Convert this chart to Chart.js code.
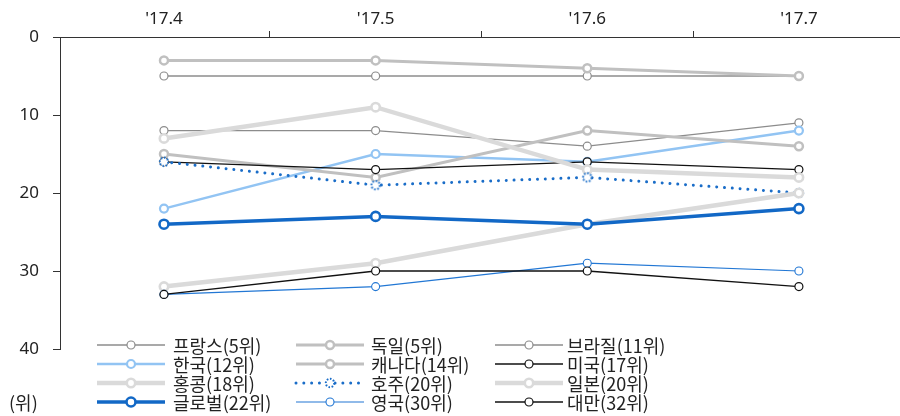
<!DOCTYPE html>
<html>
<head>
<meta charset="utf-8">
<script src="https://cdn.jsdelivr.net/npm/chart.js@4/dist/chart.umd.min.js"></script>
<style>
  html, body { margin: 0; padding: 0; background: #fff; overflow: hidden; }
  #wrap { width: 900px; height: 416px; position: relative; overflow: hidden; }
</style>
</head>
<body>
<div id="wrap"><canvas id="c" width="907" height="416"></canvas></div>
<script>
// Monthly rank by country (lower is better)
const categories = ["'17.4", "'17.5", "'17.6", "'17.7"];
const yTicks = [0, 10, 20, 30, 40];
const seriesNames = [
  '프랑스(5위)', '독일(5위)', '브라질(11위)',
  '한국(12위)', '캐나다(14위)', '미국(17위)',
  '홍콩(18위)', '호주(20위)', '일본(20위)',
  '글로벌(22위)', '영국(30위)', '대만(32위)'
];
const france    = [5, 5, 5, 5];
const germany   = [3, 3, 4, 5];
const brazil    = [12, 12, 14, 11];
const korea     = [22, 15, 16, 12];
const canada    = [15, 18, 12, 14];
const usa       = [16, 17, 16, 17];
const hongkong  = [13, 9, 17, 18];
const australia = [16, 19, 18, 20];
const japan     = [32, 29, 24, 20];
const globalAvg = [24, 23, 24, 22];
const uk        = [33, 32, 29, 30];
const taiwan    = [33, 30, 30, 32];
const unitLabel = '(위)';

const FONT = "'Noto Sans', 'Noto Sans CJK KR', sans-serif";
const LEGEND_FONT = "'Noto Sans CJK KR', 'Noto Sans', sans-serif";

// dotted ring used as the marker of the dotted series
function dottedRing(color) {
  const c = document.createElement('canvas');
  c.width = 14; c.height = 14;
  const g = c.getContext('2d');
  g.beginPath();
  g.arc(7, 7, 4.2, 0, Math.PI * 2);
  g.fillStyle = '#fff';
  g.fill();
  g.setLineDash([1.6, 1.6]);
  g.lineWidth = 2;
  g.strokeStyle = color;
  g.stroke();
  return c;
}

const styles = [
  { color: '#8c8c8c', width: 1.3, r: 4,   bw: 1.2 },
  { color: '#c0c0c0', width: 3,   r: 4,   bw: 2.5 },
  { color: '#8c8c8c', width: 1.3, r: 4,   bw: 1.2 },
  { color: '#92c4f3', width: 2.5, r: 4,   bw: 2.2 },
  { color: '#c0c0c0', width: 3,   r: 4,   bw: 2.5 },
  { color: '#111111', width: 1.3, r: 4,   bw: 1.2 },
  { color: '#dadada', width: 4.5, r: 4.2, bw: 2.6 },
  { color: '#1a6dc8', width: 3,   r: 4,   bw: 2, dotted: true },
  { color: '#dadada', width: 4.5, r: 4.2, bw: 2.6 },
  { color: '#1268c6', width: 3.5, r: 4.5, bw: 2.6 },
  { color: '#2277d4', width: 1.2, r: 4,   bw: 1.1 },
  { color: '#111111', width: 1.3, r: 4,   bw: 1.2 }
];
const seriesValues = [france, germany, brazil, korea, canada, usa, hongkong, australia, japan, globalAvg, uk, taiwan];

const datasets = seriesValues.map((vals, i) => {
  const s = styles[i];
  return {
    label: seriesNames[i],
    data: vals.map((v, k) => ({ x: k, y: v })),
    borderColor: s.color,
    borderWidth: s.width,
    borderDash: s.dotted ? [0.01, 7.8] : [],
    borderCapStyle: s.dotted ? 'round' : 'butt',
    pointStyle: s.dotted ? dottedRing(s.color) : 'circle',
    pointRadius: s.r,
    pointBorderWidth: s.bw,
    pointBorderColor: s.color,
    pointBackgroundColor: '#ffffff',
    tension: 0,
    fill: false,
    order: seriesValues.length - i
  };
});

// three-column legend laid out under the lines
const legendPlugin = {
  id: 'gridLegend',
  afterDraw(chart) {
    const ctx = chart.ctx;
    const colX = [97, 296, 495];
    const textX = [173, 371, 567];
    const rowY = [345, 364, 383, 402];
    ctx.save();
    chart.data.datasets.forEach((ds, i) => {
      const col = i % 3;
      const x0 = colX[col];
      const y = rowY[Math.floor(i / 3)];
      ctx.beginPath();
      ctx.strokeStyle = ds.borderColor;
      ctx.lineWidth = ds.borderWidth;
      ctx.lineCap = ds.borderCapStyle;
      ctx.setLineDash(ds.borderDash);
      ctx.moveTo(x0, y);
      ctx.lineTo(x0 + 68, y);
      ctx.stroke();
      ctx.setLineDash([]);
      const px = x0 + 34;
      if (typeof ds.pointStyle !== 'string') {
        ctx.drawImage(ds.pointStyle, px - ds.pointStyle.width / 2, y - ds.pointStyle.height / 2);
      } else {
        ctx.beginPath();
        ctx.arc(px, y, ds.pointRadius, 0, Math.PI * 2);
        ctx.fillStyle = '#fff';
        ctx.fill();
        ctx.lineWidth = ds.pointBorderWidth;
        ctx.strokeStyle = ds.pointBorderColor;
        ctx.stroke();
      }
      ctx.fillStyle = '#222';
      ctx.font = '18px ' + LEGEND_FONT;
      ctx.textAlign = 'left';
      ctx.textBaseline = 'middle';
      ctx.fillText(ds.label, textX[col], y + 1);
    });
    ctx.font = '18px ' + LEGEND_FONT;
    ctx.fillStyle = '#222';
    ctx.textAlign = 'left';
    ctx.textBaseline = 'middle';
    ctx.fillText(unitLabel, 9, 403);
    ctx.restore();
  }
};

new Chart(document.getElementById('c'), {
  type: 'line',
  data: { datasets },
  plugins: [legendPlugin],
  options: {
    responsive: false,
    animation: false,
    events: [],
    layout: { padding: { left: 0, right: 0, top: 0, bottom: 67 } },
    plugins: { legend: { display: false }, tooltip: { enabled: false } },
    scales: {
      x: {
        type: 'linear',
        position: 'top',
        min: -0.4913,
        max: 3.4772,
        afterBuildTicks(scale) {
          scale.ticks = [0, 0.5, 1, 1.5, 2, 2.5, 3].map(v => ({ value: v }));
        },
        afterFit(scale) {
          scale.height = 37;
        },
        ticks: {
          autoSkip: false,
          maxRotation: 0,
          padding: 2,
          color: '#222',
          font: { family: FONT, size: 17 },
          callback: (v) => Number.isInteger(v) ? categories[v] : ''
        },
        grid: {
          drawOnChartArea: false,
          tickLength: 6,
          color: (c) => (c.tick && !Number.isInteger(c.tick.value)) ? '#333' : 'rgba(0,0,0,0)'
        },
        border: { display: true, color: '#333', width: 1 }
      },
      y: {
        type: 'linear',
        reverse: true,
        min: yTicks[0],
        max: yTicks[yTicks.length - 1],
        afterBuildTicks(scale) {
          scale.ticks = yTicks.map(v => ({ value: v }));
        },
        afterFit(scale) { scale.width = 60; },
        ticks: {
          padding: 14,
          color: '#222',
          font: { family: FONT, size: 17 }
        },
        grid: { drawOnChartArea: false, tickLength: 7, color: '#333' },
        border: { display: true, color: '#333', width: 1 }
      }
    }
  }
});
</script>
</body>
</html>
